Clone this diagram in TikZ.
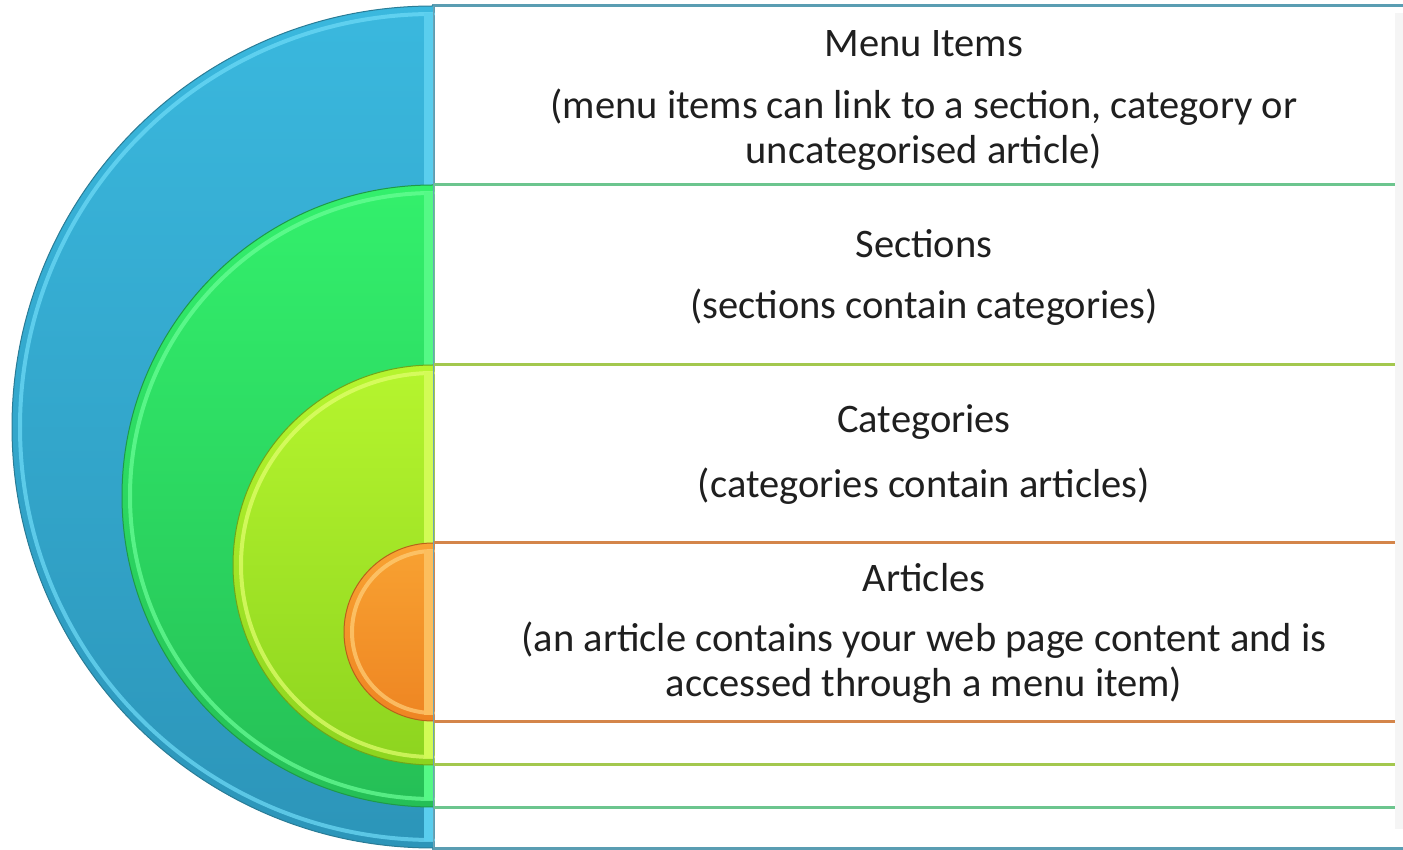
\documentclass[tikz,border=0pt]{standalone}
\usepackage{fontspec}
\setmainfont{Carlito}
\begin{document}
\begin{tikzpicture}[x=1pt,y=1pt,
  boxline/.style={line width=3pt, fill=white},
  ttl/.style={font=\fontsize{40.5}{45}\selectfont, text=black!88, align=center, inner sep=0pt},
  rim/.style={line width=4pt, line cap=round, opacity=0.7}]
\useasboundingbox (0,0) rectangle (1403,849);
\definecolor{bluetop}{HTML}{3AB8DE}\definecolor{bluebot}{HTML}{2C95B9}\definecolor{blueedge}{HTML}{2A7C96}\definecolor{bluelite}{HTML}{6FDCF8}\definecolor{bluebox}{HTML}{5A9DB2}
\definecolor{grntop}{HTML}{33F06C}\definecolor{grnbot}{HTML}{25BF56}\definecolor{grnedge}{HTML}{1E9A48}\definecolor{grnlite}{HTML}{6BFF98}\definecolor{grnbox}{HTML}{6CC58E}
\definecolor{ygtop}{HTML}{B6F52E}\definecolor{ygbot}{HTML}{8DD41F}\definecolor{ygedge}{HTML}{6FA51A}\definecolor{yglite}{HTML}{E4FF70}\definecolor{ygbox}{HTML}{A3C84E}
\definecolor{ortop}{HTML}{F8A232}\definecolor{orbot}{HTML}{EE8522}\definecolor{oredge}{HTML}{B8621A}\definecolor{orlite}{HTML}{FFD07A}\definecolor{orbox}{HTML}{D4854A}
% boxes
\draw[boxline, draw=bluebox] (433,1) rectangle (1412,843);
\draw[boxline, draw=grnbox] (433,42) rectangle (1412,664);
\draw[boxline, draw=ygbox] (433,84) rectangle (1412,484);
\draw[boxline, draw=orbox] (433,127) rectangle (1412,306);
% right shadow hint
\fill[black!4] (1395,20) rectangle (1403,836);
% half disks
\shade[top color=bluetop, bottom color=bluebot] (433,843) arc[start angle=90,end angle=270,radius=421] -- cycle;
\draw[rim, bluelite] (433,835) arc[start angle=90,end angle=270,radius=413];
\fill[bluelite!60!bluetop] (424,836) rectangle (433,8);
\draw[blueedge, line width=1pt] (433,843) arc[start angle=90,end angle=270,radius=421];

\shade[top color=grntop, bottom color=grnbot] (433,664) arc[start angle=90,end angle=270,radius=311] -- cycle;
\draw[rim, grnlite] (433,656) arc[start angle=90,end angle=270,radius=303];
\fill[grnlite!60!grntop] (424,657) rectangle (433,49);
\draw[grnedge, line width=1pt] (433,664) arc[start angle=90,end angle=270,radius=311];

\shade[top color=ygtop, bottom color=ygbot] (433,484) arc[start angle=90,end angle=270,radius=200] -- cycle;
\draw[rim, yglite] (433,476) arc[start angle=90,end angle=270,radius=192];
\fill[yglite!60!ygtop] (424,477) rectangle (433,91);
\draw[ygedge, line width=1pt] (433,484) arc[start angle=90,end angle=270,radius=200];

\shade[top color=ortop, bottom color=orbot] (433,306) arc[start angle=90,end angle=270,radius=89] -- cycle;
\draw[rim, orlite] (433,298) arc[start angle=90,end angle=270,radius=81];
\fill[orlite!60!ortop] (424,299) rectangle (433,134);
\draw[oredge, line width=1pt] (433,306) arc[start angle=90,end angle=270,radius=89];
% divider line on flat edge
\draw[blueedge!70, line width=1pt] (433,1) -- (433,843);
% texts
\node[ttl] (t1) at (924,805) {Menu Items};
\node[ttl] (d1) at (924,719.5) {(menu items can link to a section, category or\\uncategorised article)};
\node[ttl] (t2) at (924,605) {Sections};
\node[ttl] (d2) at (924,542) {(sections contain categories)};
\node[ttl] (t3) at (924,427) {Categories};
\node[ttl] (d3) at (924,363) {(categories contain articles)};
\node[ttl] (t4) at (924,271) {Articles};
\node[ttl] (d4) at (924,186) {(an article contains your web page content and is\\accessed through a menu item)};
\end{tikzpicture}
\end{document}
